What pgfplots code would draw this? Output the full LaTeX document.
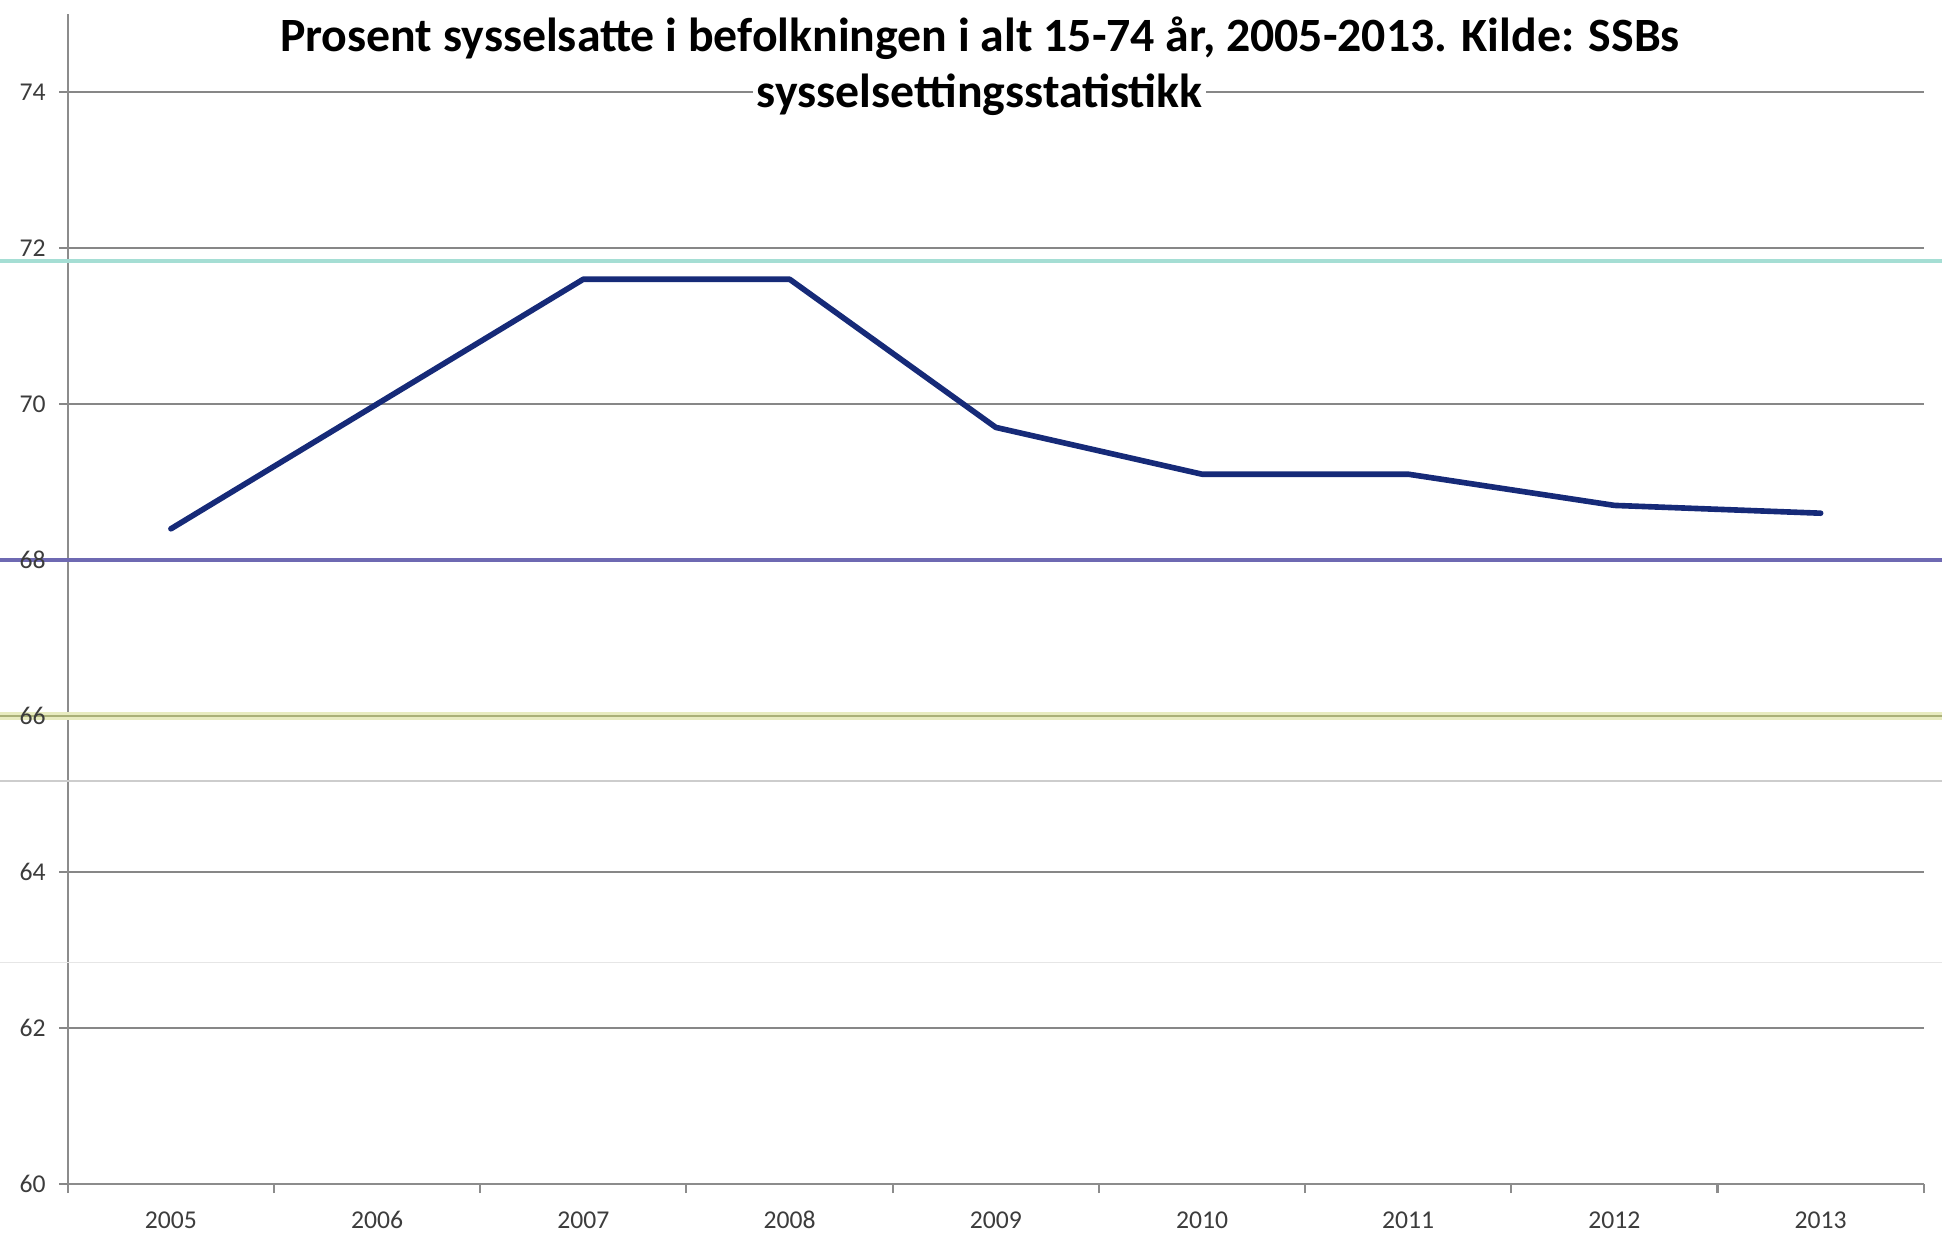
\documentclass[border=0pt]{standalone}
\usepackage{fontspec}
\setmainfont{Carlito}
\usepackage{pgfplots}
\pgfplotsset{compat=1.18}
\definecolor{gridgray}{RGB}{135,135,135}
\definecolor{axisgray}{RGB}{140,140,140}
\definecolor{labelgray}{RGB}{60,60,60}
\definecolor{navy}{RGB}{22,42,120}
\definecolor{cyanline}{RGB}{165,222,212}
\definecolor{blueline}{RGB}{110,105,178}
\definecolor{yellowband}{RGB}{232,235,192}
\definecolor{yellowline}{RGB}{170,176,120}
\definecolor{faint1}{RGB}{205,205,205}
\definecolor{faint2}{RGB}{230,230,230}
\pgfplotsset{
  base/.style={
    width=185.6mm, height=117mm, scale only axis,
    xmin=2004.5, xmax=2013.5, ymin=60, ymax=75,
    axis x line*=bottom, axis y line*=left,
    xtick={2005,2006,...,2013},
    minor xtick={2004.5,2005.5,...,2013.5},
    ytick={60,62,...,74},
    tick align=outside,
    major tick length=0.87mm, minor tick length=0.9mm,
    tick label style={font=\fontsize{7.3}{8}\selectfont, text=labelgray},
    /pgf/number format/assume math mode=true,
    xticklabel style={/pgf/number format/1000 sep={}, yshift=-0.63mm},
    yticklabel style={xshift=-0.1mm},
    clip=false,
  }
}
\begin{document}
\begin{tikzpicture}
% first layer: grid, axis lines, ticks and all lines
\begin{axis}[
  base,
  axis line style={-, draw=axisgray, line width=0.6pt},
  major x tick style={draw=none},
  minor x tick style={draw=axisgray, line width=0.6pt},
  major y tick style={draw=gridgray, line width=0.6pt},
  ymajorgrids,
  grid style={draw=gridgray, line width=0.6pt},
  xticklabels={}, yticklabels={},
]
\coordinate (O) at (rel axis cs:0,0);
% faint scan lines
\addplot[draw=faint1, line width=0.5pt] coordinates {(2004.0,65.17) (2013.8,65.17)};
\addplot[draw=faint2, line width=0.5pt] coordinates {(2004.0,62.84) (2013.8,62.84)};
% coloured reference lines
\addplot[draw=cyanline, line width=1.1pt] coordinates {(2004.0,71.83) (2013.8,71.83)};
\addplot[draw=yellowband, line width=2pt] coordinates {(2004.0,66) (2013.8,66)};
\addplot[draw=yellowline, line width=0.6pt] coordinates {(2004.0,66) (2013.8,66)};
\addplot[draw=blueline, line width=0.9pt] coordinates {(2004.0,68) (2013.8,68)};
% data
\addplot[draw=navy, line width=1.6pt, line join=round, line cap=round, mark=none]
  coordinates {(2005,68.4) (2006,70.0) (2007,71.6) (2008,71.6) (2009,69.7)
               (2010,69.1) (2011,69.1) (2012,68.7) (2013,68.6)};
\end{axis}
% second layer: tick labels only, drawn on top
\begin{axis}[
  base,
  axis line style={draw=none},
  tick style={draw=none},
]
\addplot[draw=none, forget plot] coordinates {(2005,60) (2013,60)};
\end{axis}
\pgfresetboundingbox
\path[use as bounding box] ([shift={(-6.78mm,-5.3mm)}]O) rectangle ++(194.2mm,123.7mm);
\node[anchor=base, inner sep=1pt, font=\bfseries\fontsize{13.6}{16.6}\selectfont]
  at ([shift={(91.2mm,113.3mm)}]O) {Prosent sysselsatte i befolkningen i alt 15-74 år, 2005-2013. Kilde: SSBs};
\node[anchor=base, fill=white, inner sep=1pt, font=\bfseries\fontsize{13.6}{16.6}\selectfont]
  at ([shift={(91.2mm,107.6mm)}]O) {sysselsettingsstatistikk};
\end{tikzpicture}
\end{document}
